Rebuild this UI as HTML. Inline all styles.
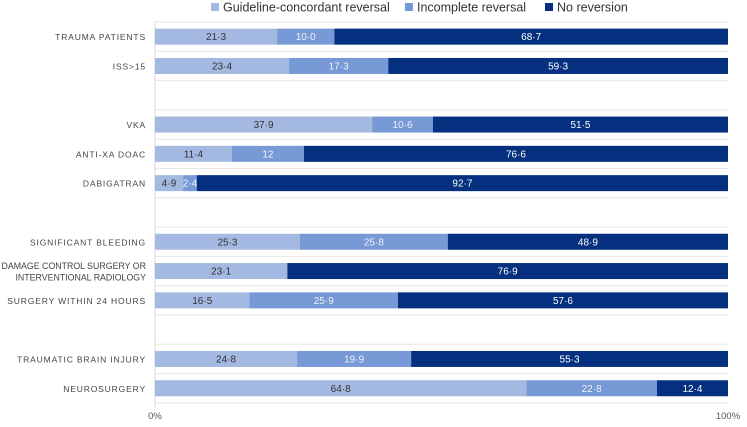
<!DOCTYPE html>
<html><head><meta charset="utf-8"><style>
body{margin:0;background:#fff;font-family:"Liberation Sans",sans-serif}
</style></head><body>
<svg id="chart" width="747" height="422" xmlns="http://www.w3.org/2000/svg" font-family="Liberation Sans, sans-serif"></svg>
<script>
const categories=["TRAUMA PATIENTS","ISS>15","","VKA","ANTI-XA DOAC","DABIGATRAN","","SIGNIFICANT BLEEDING","DAMAGE CONTROL SURGERY OR|INTERVENTIONAL RADIOLOGY","SURGERY WITHIN 24 HOURS","","TRAUMATIC BRAIN INJURY","NEUROSURGERY"];
const guideline=[21.3,23.4,null,37.9,13.4,4.9,null,25.3,23.1,16.5,null,24.8,64.8];
const incomplete=[10.0,17.3,null,10.6,12.6,2.4,null,25.8,0,25.9,null,19.9,22.8];
const noReversion=[68.7,59.3,null,51.5,74,92.7,null,48.9,76.9,57.6,null,55.3,12.4];
const guidelineLabels=["21·3","23·4","","37·9","11·4","4·9","","25·3","23·1","16·5","","24·8","64·8"];
const incompleteLabels=["10·0","17·3","","10·6","12","2·4","","25·8","","25·9","","19·9","22·8"];
const noReversionLabels=["68·7","59·3","","51·5","76·6","92·7","","48·9","76·9","57·6","","55·3","12·4"];
const seriesNames=["Guideline-concordant reversal","Incomplete reversal","No reversion"];
const colors=["#a4b9e1","#7799d5","#04307f"];
const svg=document.getElementById('chart');
const NS="http://www.w3.org/2000/svg";
const x0=155,x1=728,topY=22,slot=29.3,barH=16;
const xs=v=>x0+(x1-x0)*v/100;
function el(t,a,txt){const e=document.createElementNS(NS,t);for(const k in a)e.setAttribute(k,a[k]);if(txt!=null)e.textContent=txt;svg.appendChild(e);return e;}
for(let i=0;i<=categories.length;i++){
 const g=el('line',{x1:x0,x2:x1,y1:topY+i*slot,y2:topY+i*slot,stroke:'#e6e6e6','stroke-width':1});
 
 
}
const ax=el('line',{x1:x0,x2:x0,y1:topY,y2:topY+categories.length*slot+5,stroke:'#d9d9d9'});


categories.forEach((c,i)=>{
 if(!c)return;
 const cy=topY+(i+0.5)*slot;
 const parts=c.split('|');
 parts.forEach((p,j)=>{
  const t=el('text',{x:x0-9,y:cy+3.5+(j-(parts.length-1)/2)*11.5,'text-anchor':'end','font-size':parts.length>1?8.8:8.5,fill:'#444','letter-spacing':parts.length>1?0:0.85},p);
  
  
 });
 const vals=[guideline[i],incomplete[i],noReversion[i]];
 const labs=[guidelineLabels[i],incompleteLabels[i],noReversionLabels[i]];
 let acc=0;
 vals.forEach((v,s)=>{
  if(!v)return;
  const r=el('rect',{x:xs(acc),y:cy-barH/2,width:xs(acc+v)-xs(acc),height:barH,fill:colors[s]});
  
  
  const t=el('text',{x:(xs(acc)+xs(acc+v))/2,y:cy+3.5,'text-anchor':'middle','font-size':10,fill:s===0?'#333':(s===1?'#eef2fa':'#fff')},labs[s]);
  
  
  acc+=v;
 });
});
const tk=[["0%",x0],["100%",x1]];
tk.forEach(([l,x])=>{
 const t=el('text',{x:x,y:419,'text-anchor':'middle','font-size':9.5,fill:'#555'},l);
 
 
});
const lx=[211,405,545];
seriesNames.forEach((n,s)=>{
 const r=el('rect',{x:lx[s],y:3,width:8,height:8,fill:colors[s]});
 
 
 const t=el('text',{x:lx[s]+12,y:11.5,'font-size':12.5,fill:'#333'},n);
 
 
});
</script>
</body></html>
